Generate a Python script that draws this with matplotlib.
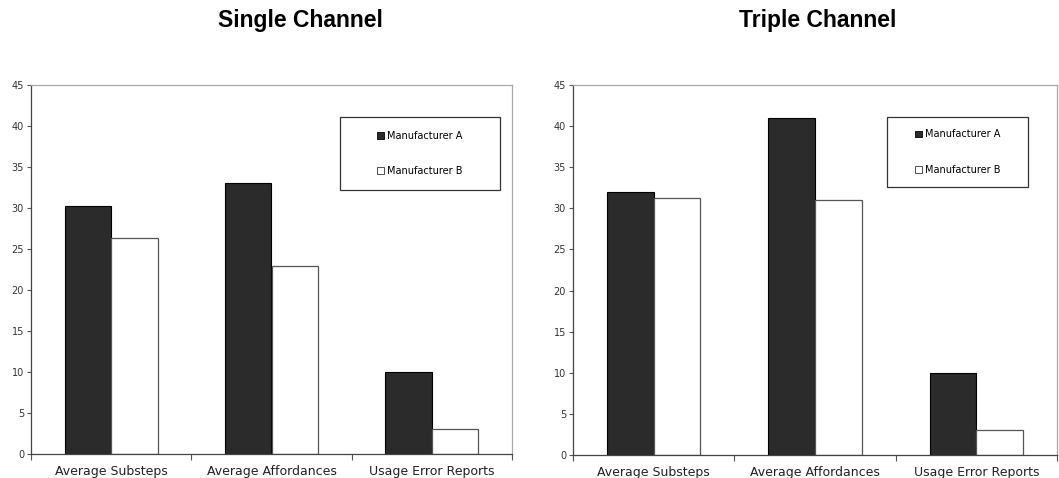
import numpy as np
import matplotlib
matplotlib.use("Agg")
import matplotlib.pyplot as plt
from matplotlib.patches import Rectangle, Patch

CATEGORIES = ["Average Substeps", "Average Affordances", "Usage Error Reports"]
SERIES = ["Manufacturer A", "Manufacturer B"]
SINGLE_A = [30.2, 33.0, 10.0]
SINGLE_B = [26.3, 22.9, 3.0]
TRIPLE_A = [32.0, 41.0, 10.0]
TRIPLE_B = [31.3, 31.0, 3.0]
TITLES = ["Single Channel", "Triple Channel"]

DARK = "#2b2b2b"
W = 0.289

fig = plt.figure(figsize=(10.59, 4.78), dpi=100)
fig.patch.set_facecolor("white")

boxes = [(31 / 1059, 1 - 454 / 478, 481 / 1059, 369 / 478),
         (573 / 1059, 1 - 455 / 478, 484 / 1059, 370 / 478)]
legend_px = [(340, 117, 160, 73), (887, 117, 141, 70)]
data = [(SINGLE_A, SINGLE_B), (TRIPLE_A, TRIPLE_B)]
title_x = [300 / 1059, 818 / 1059]

for k in range(2):
    ax = fig.add_axes(boxes[k])
    x = np.arange(len(CATEGORIES))
    a, b = data[k]
    ax.bar(x - W / 2, a, W, color=DARK, edgecolor="black", linewidth=0.8)
    ax.bar(x + W / 2, b, W, color="white", edgecolor="#555555", linewidth=0.9)
    ax.set_xlim(-0.5, len(CATEGORIES) - 0.5)
    ax.set_ylim(0, 45)
    ax.set_yticks(range(0, 46, 5))
    ax.set_xticks(x)
    ax.set_xticklabels(CATEGORIES, fontsize=9, color="#222222")
    ax.set_xticks(np.arange(len(CATEGORIES) + 1) - 0.5, minor=True)
    ax.tick_params(axis="x", which="major", length=0, pad=8)
    ax.tick_params(axis="x", which="minor", length=4, width=0.8, color="#555555")
    ax.tick_params(axis="y", length=3, width=0.8, color="#555555",
                   labelsize=7, labelcolor="#333333", pad=2)
    for s in ["left", "bottom"]:
        ax.spines[s].set_color("#444444")
        ax.spines[s].set_linewidth(0.9)
    for s in ["top", "right"]:
        ax.spines[s].set_color("#aaaaaa")
        ax.spines[s].set_linewidth(0.9)

    # legend frame box drawn in pixel-derived figure coords
    lx, ly, lw, lh = legend_px[k]
    fig.patches.append(Rectangle((lx / 1059, 1 - (ly + lh) / 478), lw / 1059, lh / 478,
                                 transform=fig.transFigure, facecolor="white",
                                 edgecolor="#333333", linewidth=0.9, zorder=3))
    handles = [Patch(facecolor=DARK, edgecolor="black", linewidth=0.6),
               Patch(facecolor="white", edgecolor="#333333", linewidth=0.6)]
    leg = fig.legend(handles, SERIES, loc="center",
                     bbox_to_anchor=((lx + lw / 2) / 1059, 1 - (ly + lh / 2) / 478),
                     frameon=False, fontsize=7, handlelength=0.7, handleheight=0.7,
                     handletextpad=0.3, labelspacing=2.6)
    leg.set_zorder(4)

    fig.text(title_x[k], 1 - 21 / 478, TITLES[k], ha="center", va="center",
             fontsize=16.5, fontweight="bold", family="Liberation Sans")

fig.savefig("out.png", dpi=100)
